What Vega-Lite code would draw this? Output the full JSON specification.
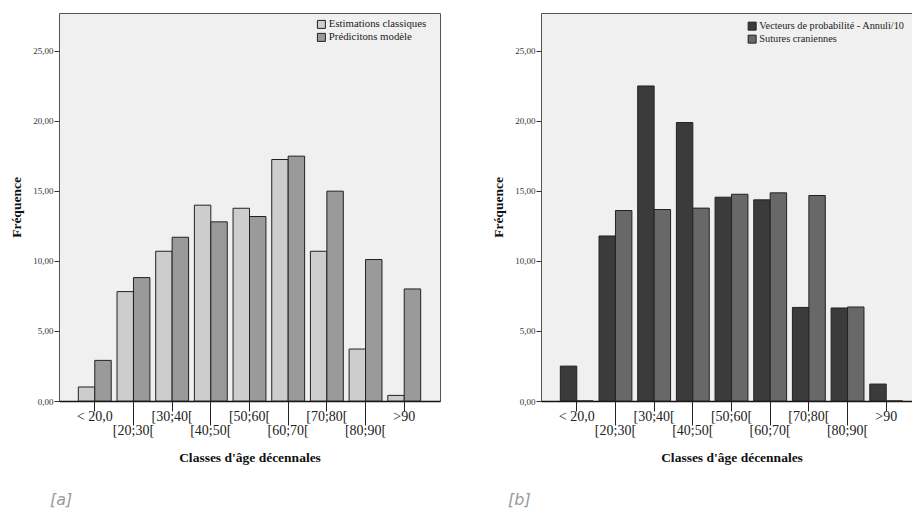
{
  "$schema": "https://vega.github.io/schema/vega-lite/v6.json",
  "background": "white",
  "padding": {"left": 9, "top": 12, "right": 0, "bottom": 0},
  "config": {
    "font": "Liberation Serif",
    "view": {"fill": "#f0f0f0", "stroke": "#555555", "strokeWidth": 1},
    "concat": {"spacing": 50},
    "axisX": {
      "labelAngle": 0,
      "domainColor": "#111111",
      "domainWidth": 1.5,
      "tickColor": "#222222",
      "tickWidth": 1,
      "tickSize": {"condition": {"test": "indexof(['[20;30[','[40;50[','[60;70[','[80;90['], datum.value) >= 0", "value": 24}, "value": 10},
      "labelFontSize": 14,
      "labelColor": "#222222",
      "labelPadding": -2,
      "labelBaseline": "top",
      "titleFontSize": 13.5,
      "titleFontWeight": "bold",
      "titleColor": "#111111",
      "titlePadding": 13
    },
    "axisY": {
      "labelFontSize": 9,
      "labelColor": "#333333",
      "domain": false,
      "grid": false,
      "tickSize": 5,
      "tickColor": "#333333",
      "labelPadding": 1,
      "titleFontSize": 13.5,
      "titleFontWeight": "bold",
      "titleColor": "#111111",
      "titlePadding": 9
    },
    "legend": {
      "orient": "none",
      "title": null,
      "symbolType": "square",
      "symbolSize": 64,
      "symbolStrokeColor": "#222222",
      "symbolStrokeWidth": 1,
      "symbolOpacity": 1,
      "labelFontSize": 10.8,
      "labelColor": "#222222",
      "labelOffset": 2,
      "rowPadding": 0
    }
  },
  "resolve": {"scale": {"fill": "independent", "xOffset": "independent", "x": "independent", "y": "independent"}, "legend": {"fill": "independent"}},
  "datasets": {
    "a": [
      {"classe": "< 20,0", "serie": "Estimations classiques", "valeur": 1.0},
      {"classe": "[20;30[", "serie": "Estimations classiques", "valeur": 7.81},
      {"classe": "[30;40[", "serie": "Estimations classiques", "valeur": 10.69},
      {"classe": "[40;50[", "serie": "Estimations classiques", "valeur": 13.98},
      {"classe": "[50;60[", "serie": "Estimations classiques", "valeur": 13.76},
      {"classe": "[60;70[", "serie": "Estimations classiques", "valeur": 17.24},
      {"classe": "[70;80[", "serie": "Estimations classiques", "valeur": 10.69},
      {"classe": "[80;90[", "serie": "Estimations classiques", "valeur": 3.71},
      {"classe": ">90", "serie": "Estimations classiques", "valeur": 0.4},
      {"classe": "< 20,0", "serie": "Prédicitons modèle", "valeur": 2.9},
      {"classe": "[20;30[", "serie": "Prédicitons modèle", "valeur": 8.81},
      {"classe": "[30;40[", "serie": "Prédicitons modèle", "valeur": 11.69},
      {"classe": "[40;50[", "serie": "Prédicitons modèle", "valeur": 12.79},
      {"classe": "[50;60[", "serie": "Prédicitons modèle", "valeur": 13.17},
      {"classe": "[60;70[", "serie": "Prédicitons modèle", "valeur": 17.48},
      {"classe": "[70;80[", "serie": "Prédicitons modèle", "valeur": 14.98},
      {"classe": "[80;90[", "serie": "Prédicitons modèle", "valeur": 10.1},
      {"classe": ">90", "serie": "Prédicitons modèle", "valeur": 8.0}
    ],
    "b": [
      {"classe": "< 20,0", "serie": "Vecteurs de probabilité - Annuli/10", "valeur": 2.49},
      {"classe": "[20;30[", "serie": "Vecteurs de probabilité - Annuli/10", "valeur": 11.78},
      {"classe": "[30;40[", "serie": "Vecteurs de probabilité - Annuli/10", "valeur": 22.49},
      {"classe": "[40;50[", "serie": "Vecteurs de probabilité - Annuli/10", "valeur": 19.88},
      {"classe": "[50;60[", "serie": "Vecteurs de probabilité - Annuli/10", "valeur": 14.55},
      {"classe": "[60;70[", "serie": "Vecteurs de probabilité - Annuli/10", "valeur": 14.36},
      {"classe": "[70;80[", "serie": "Vecteurs de probabilité - Annuli/10", "valeur": 6.68},
      {"classe": "[80;90[", "serie": "Vecteurs de probabilité - Annuli/10", "valeur": 6.64},
      {"classe": ">90", "serie": "Vecteurs de probabilité - Annuli/10", "valeur": 1.21},
      {"classe": "< 20,0", "serie": "Sutures craniennes", "valeur": 0},
      {"classe": "[20;30[", "serie": "Sutures craniennes", "valeur": 13.6},
      {"classe": "[30;40[", "serie": "Sutures craniennes", "valeur": 13.67},
      {"classe": "[40;50[", "serie": "Sutures craniennes", "valeur": 13.77},
      {"classe": "[50;60[", "serie": "Sutures craniennes", "valeur": 14.76},
      {"classe": "[60;70[", "serie": "Sutures craniennes", "valeur": 14.86},
      {"classe": "[70;80[", "serie": "Sutures craniennes", "valeur": 14.67},
      {"classe": "[80;90[", "serie": "Sutures craniennes", "valeur": 6.71},
      {"classe": ">90", "serie": "Sutures craniennes", "valeur": 0}
    ]
  },
  "hconcat": [
    {
      "width": 381,
      "height": 388,
      "data": {"name": "a"},
      "title": {"text": "[a]", "orient": "bottom", "anchor": "start", "frame": "group", "dx": -9, "offset": 28, "font": "DejaVu Sans", "fontStyle": "italic", "fontWeight": "normal", "fontSize": 16, "color": "#9a9a9a"},
      "mark": {"type": "bar", "stroke": "#222222", "strokeWidth": 1},
      "encoding": {
        "x": {"field": "classe", "type": "nominal", "sort": ["< 20,0", "[20;30[", "[30;40[", "[40;50[", "[50;60[", "[60;70[", "[70;80[", "[80;90[", ">90"], "scale": {"paddingInner": 0.15, "paddingOuter": 0.5}, "title": "Classes d'âge décennales"},
        "xOffset": {"field": "serie", "type": "nominal", "sort": ["Estimations classiques", "Prédicitons modèle"], "scale": {"paddingInner": 0, "paddingOuter": 0}},
        "y": {"field": "valeur", "type": "quantitative", "scale": {"domain": [0, 27.7], "nice": false}, "title": "Fréquence", "axis": {"values": [0, 5, 10, 15, 20, 25], "labelExpr": "replace(format(datum.value, '.2f'), '.', ',')"}},
        "fill": {"field": "serie", "type": "nominal", "scale": {"domain": ["Estimations classiques", "Prédicitons modèle"], "range": ["#cdcdcd", "#9a9a9a"]}, "legend": {"legendX": 257, "legendY": 6}}
      }
    },
    {
      "width": 381,
      "height": 388,
      "data": {"name": "b"},
      "title": {"text": "[b]", "orient": "bottom", "anchor": "start", "frame": "group", "dx": -33, "offset": 28, "font": "DejaVu Sans", "fontStyle": "italic", "fontWeight": "normal", "fontSize": 16, "color": "#9a9a9a"},
      "mark": {"type": "bar", "stroke": "#222222", "strokeWidth": 1},
      "encoding": {
        "x": {"field": "classe", "type": "nominal", "sort": ["< 20,0", "[20;30[", "[30;40[", "[40;50[", "[50;60[", "[60;70[", "[70;80[", "[80;90[", ">90"], "scale": {"paddingInner": 0.15, "paddingOuter": 0.5}, "title": "Classes d'âge décennales"},
        "xOffset": {"field": "serie", "type": "nominal", "sort": ["Vecteurs de probabilité - Annuli/10", "Sutures craniennes"], "scale": {"paddingInner": 0, "paddingOuter": 0}},
        "y": {"field": "valeur", "type": "quantitative", "scale": {"domain": [0, 27.7], "nice": false}, "title": "Fréquence", "axis": {"values": [0, 5, 10, 15, 20, 25], "labelExpr": "replace(format(datum.value, '.2f'), '.', ',')"}},
        "fill": {"field": "serie", "type": "nominal", "scale": {"domain": ["Vecteurs de probabilité - Annuli/10", "Sutures craniennes"], "range": ["#3b3b3b", "#686868"]}, "legend": {"legendX": 206, "legendY": 8, "labelFontSize": 10.3}}
      }
    }
  ]
}
